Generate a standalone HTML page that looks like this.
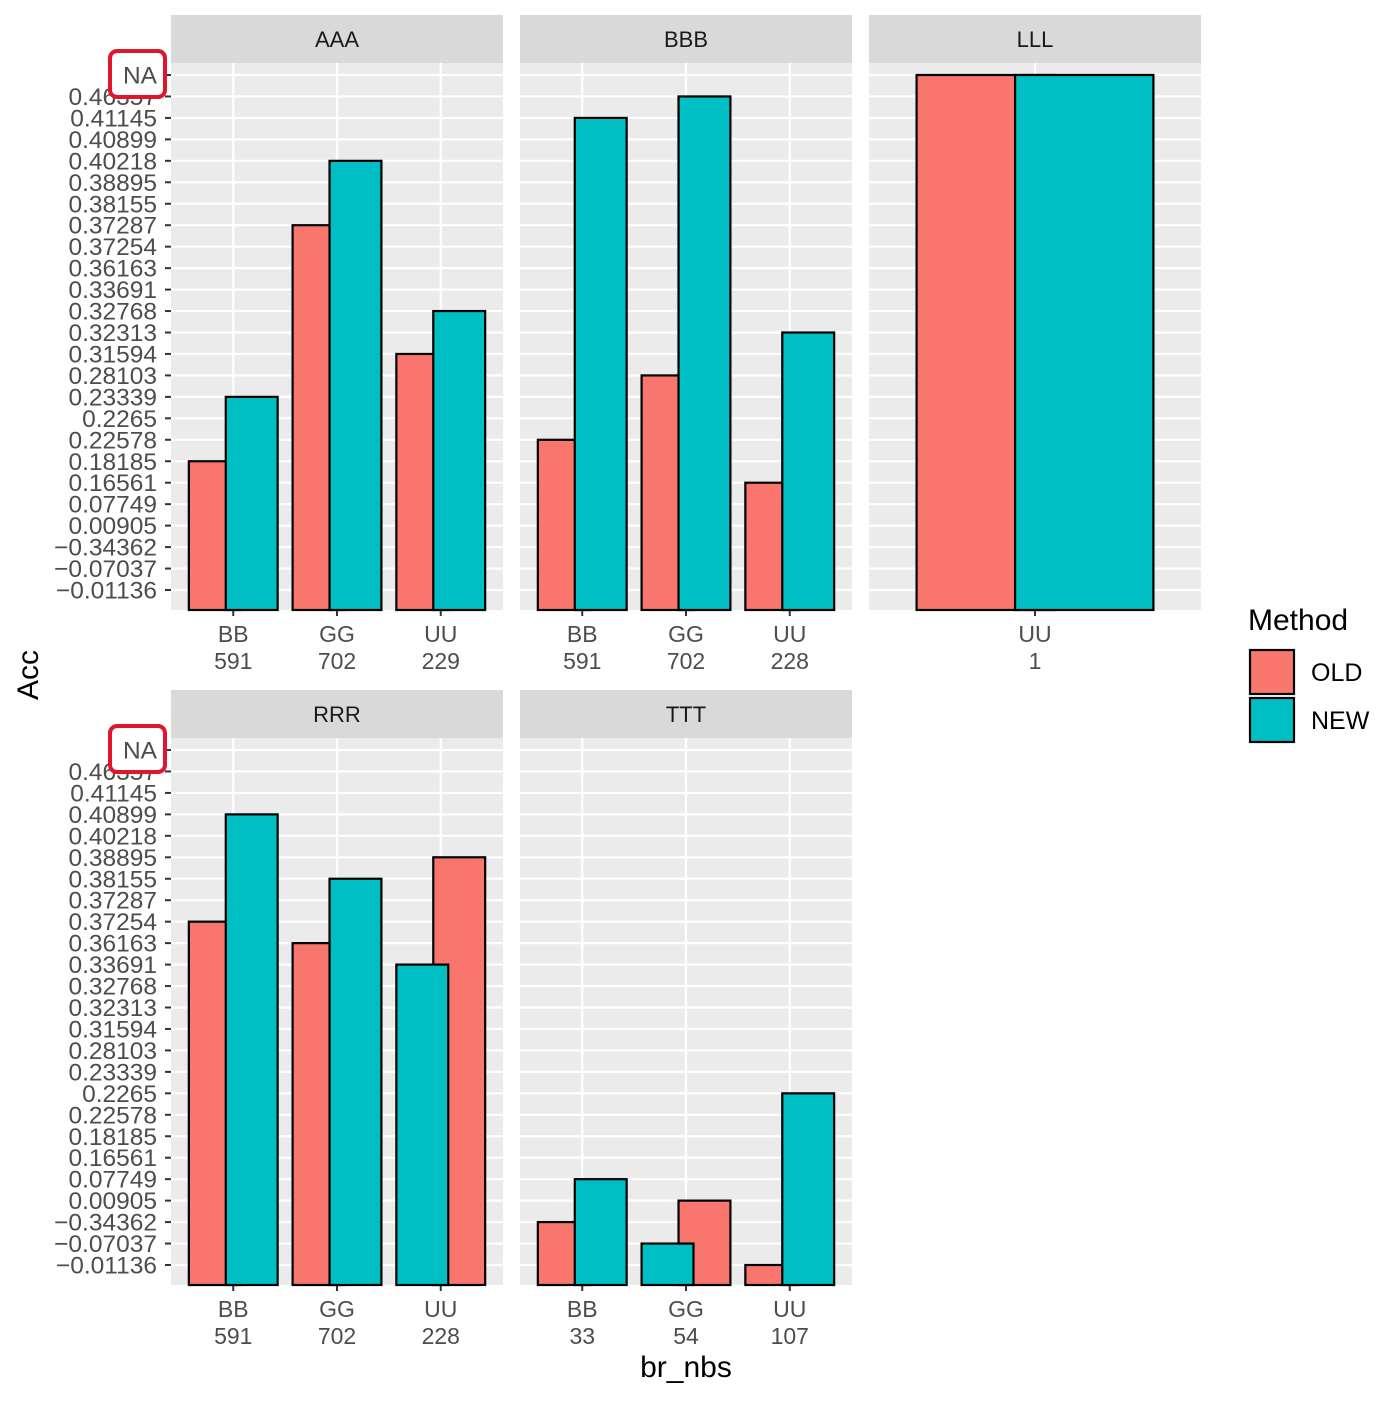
<!DOCTYPE html>
<html><head><meta charset="utf-8"><style>
body{margin:0;background:#fff}
svg text{font-family:"Liberation Sans",Arial,sans-serif}
</style></head><body>
<svg id="chart" width="1400" height="1400" xmlns="http://www.w3.org/2000/svg"></svg>
<script>
const levels = ["-0.01136","-0.07037","-0.34362","0.00905","0.07749","0.16561","0.18185","0.22578","0.2265","0.23339","0.28103","0.31594","0.32313","0.32768","0.33691","0.36163","0.37254","0.37287","0.38155","0.38895","0.40218","0.40899","0.41145","0.46357","NA"];
const facetNames = ["AAA","BBB","LLL","RRR","TTT"];
const catsAAA = ["BB\n591","GG\n702","UU\n229"];
const oldAAA = ["0.18185","0.37287","0.31594"];
const newAAA = ["0.23339","0.40218","0.32768"];
const newLeftAAA = [false,false,false];
const catsBBB = ["BB\n591","GG\n702","UU\n228"];
const oldBBB = ["0.22578","0.28103","0.16561"];
const newBBB = ["0.41145","0.46357","0.32313"];
const newLeftBBB = [false,false,false];
const catsLLL = ["UU\n1"];
const oldLLL = ["NA"];
const newLLL = ["NA"];
const newLeftLLL = [false];
const catsRRR = ["BB\n591","GG\n702","UU\n228"];
const oldRRR = ["0.37254","0.36163","0.38895"];
const newRRR = ["0.40899","0.38155","0.33691"];
const newLeftRRR = [false,false,true];
const catsTTT = ["BB\n33","GG\n54","UU\n107"];
const oldTTT = ["-0.34362","0.00905","-0.01136"];
const newTTT = ["0.07749","-0.07037","0.2265"];
const newLeftTTT = [false,true,false];

const NS="http://www.w3.org/2000/svg";
const svg=document.getElementById('chart');
function mk(tag,attrs,parent){const e=document.createElementNS(NS,tag);for(const k in attrs)e.setAttribute(k,attrs[k]);(parent||svg).appendChild(e);return e;}
const panels=[
 {name:"AAA",x:171,y:63,cats:catsAAA,o:oldAAA,n:newAAA,nl:newLeftAAA,yaxis:true},
 {name:"BBB",x:520,y:63,cats:catsBBB,o:oldBBB,n:newBBB,nl:newLeftBBB},
 {name:"LLL",x:869,y:63,cats:catsLLL,o:oldLLL,n:newLLL,nl:newLeftLLL},
 {name:"RRR",x:171,y:738,cats:catsRRR,o:oldRRR,n:newRRR,nl:newLeftRRR,yaxis:true},
 {name:"TTT",x:520,y:738,cats:catsTTT,o:oldTTT,n:newTTT,nl:newLeftTTT}
];
const PW=332,PH=547,C_OLD="#F8766D",C_NEW="#00BFC4";
panels.forEach(p=>{
  const g=mk('g',{});
  
  
  const strip=mk('rect',{x:p.x,y:p.y-48,width:PW,height:48,fill:'#D9D9D9'},g);
  
  
  const st=mk('text',{x:p.x+PW/2,y:p.y-16,'text-anchor':'middle','font-size':22,fill:'#1A1A1A'},g);st.textContent=p.name;
  
  
  mk('rect',{x:p.x,y:p.y,width:PW,height:PH,fill:'#EBEBEB'},g);
  const yB=p.y+527,step=(527-12)/(levels.length-1);
  const yPos=v=>yB-levels.indexOf(v)*step;
  levels.forEach((lv,i)=>{
    mk('line',{x1:p.x,x2:p.x+PW,y1:yB-i*step,y2:yB-i*step,stroke:'#fff','stroke-width':2.2},g);
    if(p.yaxis){
      mk('line',{x1:p.x-6,x2:p.x,y1:yB-i*step,y2:yB-i*step,stroke:'#333','stroke-width':2},g);
      const t=mk('text',{x:p.x-14,y:yB-i*step+8.5,'text-anchor':'end','font-size':24.5,fill:'#4D4D4D'},g);
      t.textContent=lv.replace('-','\u2212');
      
      
    }
  });
  const nC=p.cats.length,u=PW/(nC-1+1.2);
  const xC=i=>p.x+u*(0.6+i);
  p.cats.forEach((c,i)=>{
    mk('line',{x1:xC(i),x2:xC(i),y1:p.y,y2:p.y+PH,stroke:'#fff','stroke-width':2.2},g);
    mk('line',{x1:xC(i),x2:xC(i),y1:p.y+PH,y2:p.y+PH+6,stroke:'#333','stroke-width':2},g);
    const parts=c.split('\n');
    parts.forEach((s,k)=>{const t=mk('text',{x:xC(i),y:p.y+PH+32+k*27,'text-anchor':'middle','font-size':23,fill:'#4D4D4D'},g);t.textContent=s;
      
      });
  });
  const bw=0.5*u,off=0.178*u,base=p.y+PH;
  p.cats.forEach((c,i)=>{
    const oldX=p.nl[i]?xC(i)+off:xC(i)-off,newX=p.nl[i]?xC(i)-off:xC(i)+off;
    const yo=yPos(p.o[i]),yn=yPos(p.n[i]);
    const r1=mk('rect',{x:oldX-bw/2,y:yo,width:bw,height:base-yo,fill:C_OLD,stroke:'#000','stroke-width':2.2},g);
    
    
    const r2=mk('rect',{x:newX-bw/2,y:yn,width:bw,height:base-yn,fill:C_NEW,stroke:'#000','stroke-width':2.2},g);
    
    
  });
  if(p.yaxis){
    const hl=mk('rect',{x:110,y:p.y-12,width:55,height:46,rx:7,fill:'#fff',stroke:'#E0162B','stroke-width':4},g);
    
    
    const t=mk('text',{x:p.x-14,y:yB-(levels.length-1)*step+8.5,'text-anchor':'end','font-size':24.5,fill:'#4D4D4D'},g);t.textContent='NA';
    
    
  }
});
let t=mk('text',{x:686,y:1377,'text-anchor':'middle','font-size':30,fill:'#000'});t.textContent='br_nbs';


t=mk('text',{x:38,y:675,'text-anchor':'middle','font-size':30,fill:'#000',transform:'rotate(-90 38 675)'});t.textContent='Acc';


t=mk('text',{x:1248,y:630,'font-size':30,fill:'#000'});t.textContent='Method';


[["OLD",C_OLD,650],["NEW",C_NEW,698]].forEach(([l,c,y])=>{
  const g=mk('g',{});
  
  
  mk('rect',{x:1250,y:y,width:44,height:44,fill:c,stroke:'#000','stroke-width':2.2},g);
  const tt=mk('text',{x:1311,y:y+31,'font-size':25,fill:'#000'},g);tt.textContent=l;
});
</script>
</body></html>
